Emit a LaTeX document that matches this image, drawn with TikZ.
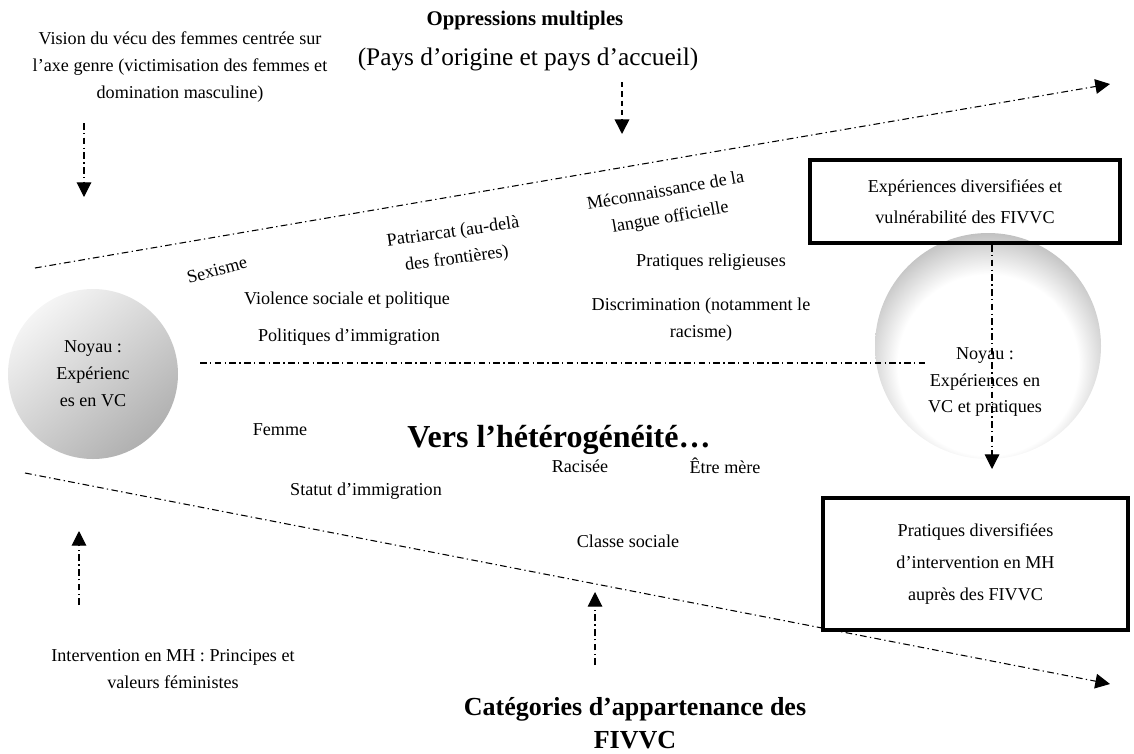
\documentclass[tikz,border=0pt]{standalone}
\usepackage{fontspec}
\setmainfont{Liberation Serif}
\usetikzlibrary{arrows.meta}

% grey rim on top, white centre (right core)
\pgfdeclareradialshading{rebord}{\pgfpoint{0bp}{-7bp}}{color(0bp)=(white); color(20bp)=(white); color(32bp)=(gray!72); color(50bp)=(gray!72)}

\begin{document}
\begin{tikzpicture}[x=0.75pt, y=-0.75pt,
    txt/.style={font=\fontsize{13.6}{20.2}\selectfont, align=center, inner sep=0pt},
    titre/.style={font=\bfseries\fontsize{15.6}{20}\selectfont, align=center, inner sep=0pt},
    grandtitre/.style={font=\bfseries\fontsize{19.5}{24.5}\selectfont, align=center, inner sep=0pt},
    axe/.style={line width=0.8pt, dash pattern=on 5pt off 2.5pt on 1pt off 2.5pt},
    fleche/.style={axe, -{Triangle[width=11pt,length=11pt]}},
    cadre/.style={draw, line width=3pt, align=center, inner sep=0pt, font=\fontsize{13.6}{24.2}\selectfont}]

    \useasboundingbox (0,0) rectangle (1134,753);

    % Cores
    \node[circle, minimum size=127.5pt, inner sep=0pt, shading=axis, top color=gray!8, bottom color=gray!62, shading angle=40] (noyauG) at (93,374) {};
    \node[txt] (noyauGtxt) at (93,374) {Noyau :\\Expérienc\\es en VC};
    \node[circle, minimum size=169.5pt, inner sep=0pt, shading=rebord] (noyauD) at (988,346) {};

    % Boxes
    \node[cadre, minimum width=232.5pt, minimum height=62pt, font=\fontsize{13.6}{23.2}\selectfont] (expDiv) at (965,201.5) {Expériences diversifiées et\\vulnérabilité des FIVVC};
    \node[cadre, minimum width=229pt, minimum height=99pt] (pratDiv) at (975.5,564) {Pratiques diversifiées\\d’intervention en MH\\auprès des FIVVC};

    % Titles and labels
    \node[txt] (vision) at (180,67) {Vision du vécu des femmes centrée sur\\l’axe genre (victimisation des femmes et\\domination masculine)};
    \node[titre] (oppr) at (525,20) {Oppressions multiples};
    \node[txt, font=\fontsize{19}{24}\selectfont] (pays) at (528,59) {(Pays d’origine et pays d’accueil)};
    \node[txt, rotate=15] (sexisme) at (217,270) {Sexisme};
    \node[txt, rotate=8] (patri) at (455,246) {Patriarcat (au-delà\\des frontières)};
    \node[txt, rotate=10] (mecon) at (668,205) {Méconnaissance de la\\langue officielle};
    \node[txt] (relig) at (711,262) {Pratiques religieuses};
    \node[txt] (violence) at (347,300) {Violence sociale et politique};
    \node[txt] (politiq) at (349,337) {Politiques d’immigration};
    \node[txt] (discrim) at (701,320) {Discrimination (notamment le\\racisme)};
    \node[txt] (noyauDtxt) at (985,382) {Noyau :\\Expériences en\\VC et pratiques};
    \node[grandtitre, font=\bfseries\fontsize{24}{28}\selectfont] (hetero) at (559,440) {Vers l’hétérogénéité…};
    \node[txt] (femme) at (280,430) {Femme};
    \node[txt] (racisee) at (580,466) {Racisée};
    \node[txt] (mere) at (725,466) {Être mère};
    \node[txt] (statut) at (366,491) {Statut d’immigration};
    \node[txt] (classe) at (628,541) {Classe sociale};
    \node[txt] (interv) at (173,669) {Intervention en MH : Principes et\\valeurs féministes};
    \node[grandtitre] (categ) at (635,723) {Catégories d’appartenance des\\FIVVC};

    % Line ends
    \coordinate (visA) at (84,123);   \coordinate (visB) at (84,197);
    \coordinate (oppA) at (622,82);   \coordinate (oppB) at (622,134);
    \coordinate (intA) at (79,605);   \coordinate (intB) at (79,531);
    \coordinate (catA) at (595,665);  \coordinate (catB) at (595,592);
    \coordinate (hautA) at (35,268);  \coordinate (hautB) at (1110,84);
    \coordinate (basA) at (25,473);   \coordinate (basB) at (1110,684);
    \coordinate (milA) at (200,363);  \coordinate (milB) at (925,363);
    \coordinate (vertA) at (992,245); \coordinate (vertB) at (992,469);

    % Edges
    \draw[fleche] (hautA) -- (hautB);
    \draw[fleche] (basA) -- (basB);
    \draw[axe] (milA) -- (milB);
    \draw[fleche] (vertA) -- (vertB);
    \draw[fleche] (visA) -- (visB);
    \draw[line width=1.2pt, dash pattern=on 4pt off 3pt, -{Triangle[width=11pt,length=11pt]}] (oppA) -- (oppB);
    \draw[fleche] (intA) -- (intB);
    \draw[fleche] (catA) -- (catB);
\end{tikzpicture}
\end{document}
